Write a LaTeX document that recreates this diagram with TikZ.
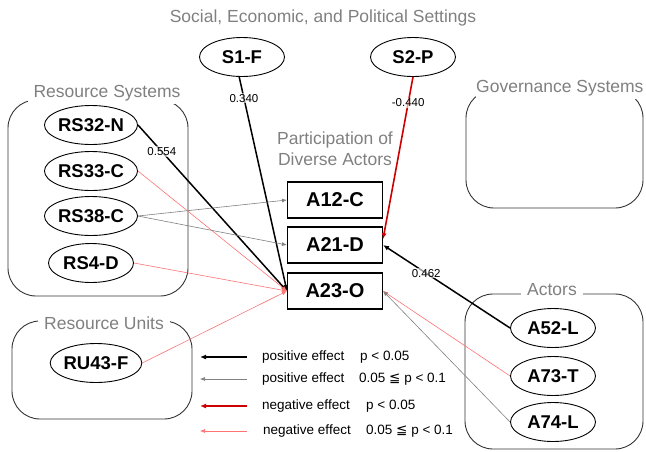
\documentclass[tikz,border=0pt]{standalone}
\usepackage{fontspec}
\setmainfont{Liberation Sans}
\newfontfamily\symfont{DejaVu Sans}
\usetikzlibrary{shapes.geometric,arrows.meta}
\begin{document}
\begin{tikzpicture}[x=1pt, y=-1pt,
  var/.style={draw, ellipse, line width=0.9pt, minimum width=85pt, minimum height=39pt, inner sep=0pt, font=\fontsize{18.5}{20}\selectfont\bfseries},
  actbox/.style={draw, line width=1.1pt, minimum width=95pt, minimum height=36pt, inner sep=0pt, font=\fontsize{20}{22}\selectfont\bfseries},
  group/.style={draw=black!80, line width=0.9pt, rounded corners=28pt},
  grouplabel/.style={fill=white, inner xsep=6pt, inner ysep=3pt, text=black!50, font=\fontsize{17.5}{19}\selectfont},
  coef/.style={fill=white, fill opacity=0.6, text opacity=1, text=black, inner sep=1pt, font=\fontsize{11.5}{12}\selectfont},
  legendtext/.style={anchor=west, inner sep=0pt, font=\fontsize{13.5}{15}\selectfont},
  posS/.style={->, >={Latex[length=6pt,width=5pt]}, color=black, line width=1.5pt},
  posW/.style={->, >={Latex[length=5pt,width=4pt]}, color=black!50, line width=0.6pt},
  negS/.style={->, >={Latex[length=6pt,width=5pt]}, color=red!80!black, line width=1.6pt},
  negW/.style={->, >={Latex[length=5pt,width=4pt]}, color=red!55, line width=0.6pt}]
\useasboundingbox (0,0) rectangle (646,451);
% group frames
\draw[group] (8,100) rectangle (188,296);
\draw[group] (12,321) rectangle (192,419);
\draw[group] (466,90) rectangle (643,208);
\draw[group] (465,294) rectangle (643,449);
\node[grouplabel, inner xsep=0pt, fill=none] (tSet) at (323,18) {Social, Economic, and Political Settings};
\node[grouplabel] (tRS) at (107,93) {Resource Systems};
\node[grouplabel] (tRU) at (104,323) {Resource Units};
\node[grouplabel, anchor=west, inner xsep=0pt] (tGS) at (476,88) {Governance Systems};
\node[grouplabel] (tA) at (552,290) {Actors};
\node[grouplabel, fill=none, align=center, font=\fontsize{17.5}{21}\selectfont] (tP) at (335,149) {Participation of\\Diverse Actors};
% variables
\node[var] (S1F) at (242,57) {S1-F};
\node[var] (S2P) at (413,57) {S2-P};
\node[var] (RS32N) at (91,125) {RS32-N};
\node[var] (RS33C) at (91,171) {RS33-C};
\node[var] (RS38C) at (91,216) {RS38-C};
\node[var] (RS4D) at (91,263) {RS4-D};
\node[var] (RU43F) at (96,363) {RU43-F};
\node[var] (A52L) at (553,328) {A52-L};
\node[var] (A73T) at (553,376) {A73-T};
\node[var] (A74L) at (553,422) {A74-L};
\node[actbox] (A12C) at (335,200) {A12-C};
\node[actbox] (A21D) at (335,245) {A21-D};
\node[actbox] (A23O) at (335,291) {A23-O};
% effects
\draw[posS] (S1F.262) to node[coef, pos=0.1] {0.340} (A23O.west);
\draw[negS] (S2P.south) to node[coef, pos=0.16] {-0.440} (A21D.7);
\draw[posS] (RS32N.east) to node[coef, pos=0.16] {0.554} (A23O.west);
\draw[negW] (RS33C.east) to (A23O.west);
\draw[posW] (RS38C.east) to (A12C.west);
\draw[posW] (RS38C.east) to (A21D.west);
\draw[negW] (RS4D.east) to (A23O.west);
\draw[negW] (RU43F.east) to (A23O.west);
\draw[posS] (A52L.west) to node[coef, pos=0.66] {0.462} (A21D.east);
\draw[negW] (A73T.west) to (A23O.east);
\draw[posW] (A74L.west) to (A23O.east);
% legend
\coordinate (k1) at (247,357); \coordinate (k1e) at (200,357);
\coordinate (k2) at (247,379); \coordinate (k2e) at (200,379);
\coordinate (k3) at (247,406); \coordinate (k3e) at (200,406);
\coordinate (k4) at (247,431); \coordinate (k4e) at (200,431);
\draw[posS] (k1) to (k1e);
\draw[posW] (k2) to (k2e);
\draw[negS] (k3) to (k3e);
\draw[negW] (k4) to (k4e);
\node[legendtext] (e1) at (262,357) {positive effect};
\node[legendtext] (p1) at (360,357) {p < 0.05};
\node[legendtext] (e2) at (262,379) {positive effect};
\node[legendtext] (p2) at (359,379) {0.05 {\symfont ≦} p < 0.1};
\node[legendtext] (e3) at (262,406) {negative effect};
\node[legendtext] (p3) at (366,406) {p < 0.05};
\node[legendtext] (e4) at (263,431) {negative effect};
\node[legendtext] (p4) at (366,431) {0.05 {\symfont ≦} p < 0.1};
\end{tikzpicture}
\end{document}
